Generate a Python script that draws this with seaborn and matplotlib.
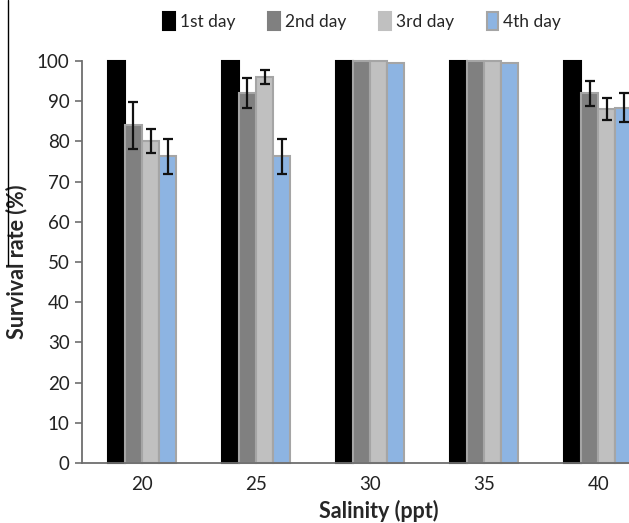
import matplotlib
matplotlib.use("Agg")
import matplotlib.pyplot as plt
from matplotlib.lines import Line2D
from matplotlib.container import BarContainer
from matplotlib import font_manager
import seaborn as sns
import pandas as pd

# ---- data ----
salinity = ["20", "25", "30", "35", "40"]
days = ["1st day", "2nd day", "3rd day", "4th day"]
day1 = [100, 100, 100, 100, 100]
day2 = [84, 92, 100, 100, 92]
day3 = [80, 96, 100, 100, 88]
day4 = [76.3, 76.3, 99.5, 99.5, 88.4]
err1 = [0, 0, 0, 0, 0]
err2 = [5.8, 3.7, 0, 0, 3.1]
err3 = [3.0, 1.7, 0, 0, 2.8]
err4 = [4.4, 4.3, 0, 0, 3.6]
colors = ["#000000", "#808080", "#C0C0C0", "#8DB4E2"]

values = [day1, day2, day3, day4]
errors = [err1, err2, err3, err4]
rows = []
for d, vals in zip(days, values):
    for s, v in zip(salinity, vals):
        rows.append({"Salinity": s, "Day": d, "Survival": v})
df = pd.DataFrame(rows)

sns.set_style("white")
avail = {f.name for f in font_manager.fontManager.ttflist}
fam = "Lato"
for cand in ["Lato", "Open Sans"]:
    if cand in avail:
        fam = cand
        break
plt.rcParams["font.family"] = [fam, "DejaVu Sans"]

fig = plt.figure(figsize=(6.29, 5.23), dpi=100)
ax = fig.add_axes([82 / 629, 1 - 463 / 523, 1 - 82 / 629, (463 - 61) / 523])

sns.barplot(data=df, x="Salinity", y="Survival", hue="Day", order=salinity,
            hue_order=days, palette=colors, width=0.6, saturation=1,
            errorbar=None, edgecolor="#A5A5A5", linewidth=1.5, ax=ax)

bar_conts = [c for c in ax.containers if isinstance(c, BarContainer)]
for i, cont in enumerate(bar_conts):
    for j, bar in enumerate(cont.patches):
        bar.set_clip_on(False)
        if i == 0:
            bar.set_edgecolor("#000000")
        e = errors[i][j]
        if e > 0:
            x = bar.get_x() + bar.get_width() / 2
            ax.errorbar(x, bar.get_height(), yerr=e, fmt="none", ecolor="#111111",
                        elinewidth=1.6, capsize=3.6, capthick=1.6, zorder=5)

ax.set_xlim(-0.526, 4.27)
ax.set_ylim(0, 100)
ax.set_yticks(range(0, 101, 10))
ax.tick_params(axis="y", which="both", direction="out", length=5, width=1.2,
               color="#6E6E6E", labelsize=13.5, pad=4, left=True)
ax.tick_params(axis="x", length=0, labelsize=13.5, pad=9)
for lab in ax.get_xticklabels() + ax.get_yticklabels():
    lab.set_color("#222222")
sns.despine(ax=ax, top=True, right=True)
for sp in ["left", "bottom"]:
    ax.spines[sp].set_color("#6E6E6E")
    ax.spines[sp].set_linewidth(1.3)

ax.set_xlabel("Salinity (ppt)", fontsize=15.5, fontweight="bold", labelpad=5)
ax.xaxis.label.set_x(0.543)
ax.set_ylabel("Survival rate (%)", fontsize=15.5, fontweight="bold", labelpad=7)

handles, labels = ax.get_legend_handles_labels()
ax.get_legend().remove()
for k, h in enumerate(handles):
    h.set_edgecolor("#000000" if k == 0 else ("#A5A5A5" if k == 3 else colors[k]))
leg = fig.legend(handles, labels, loc="center", bbox_to_anchor=(0.576, 0.96),
                 ncol=4, frameon=False, fontsize=12.5, handlelength=0.65,
                 handleheight=1.25, handletextpad=0.3, columnspacing=1.9)

# stray vertical line at left edge of the reference crop
fig.add_artist(Line2D([8 / 629, 8 / 629], [1.0, 1 - 265 / 523],
                      transform=fig.transFigure, color="#000000", linewidth=1.0))

fig.savefig("out.png", dpi=100)
